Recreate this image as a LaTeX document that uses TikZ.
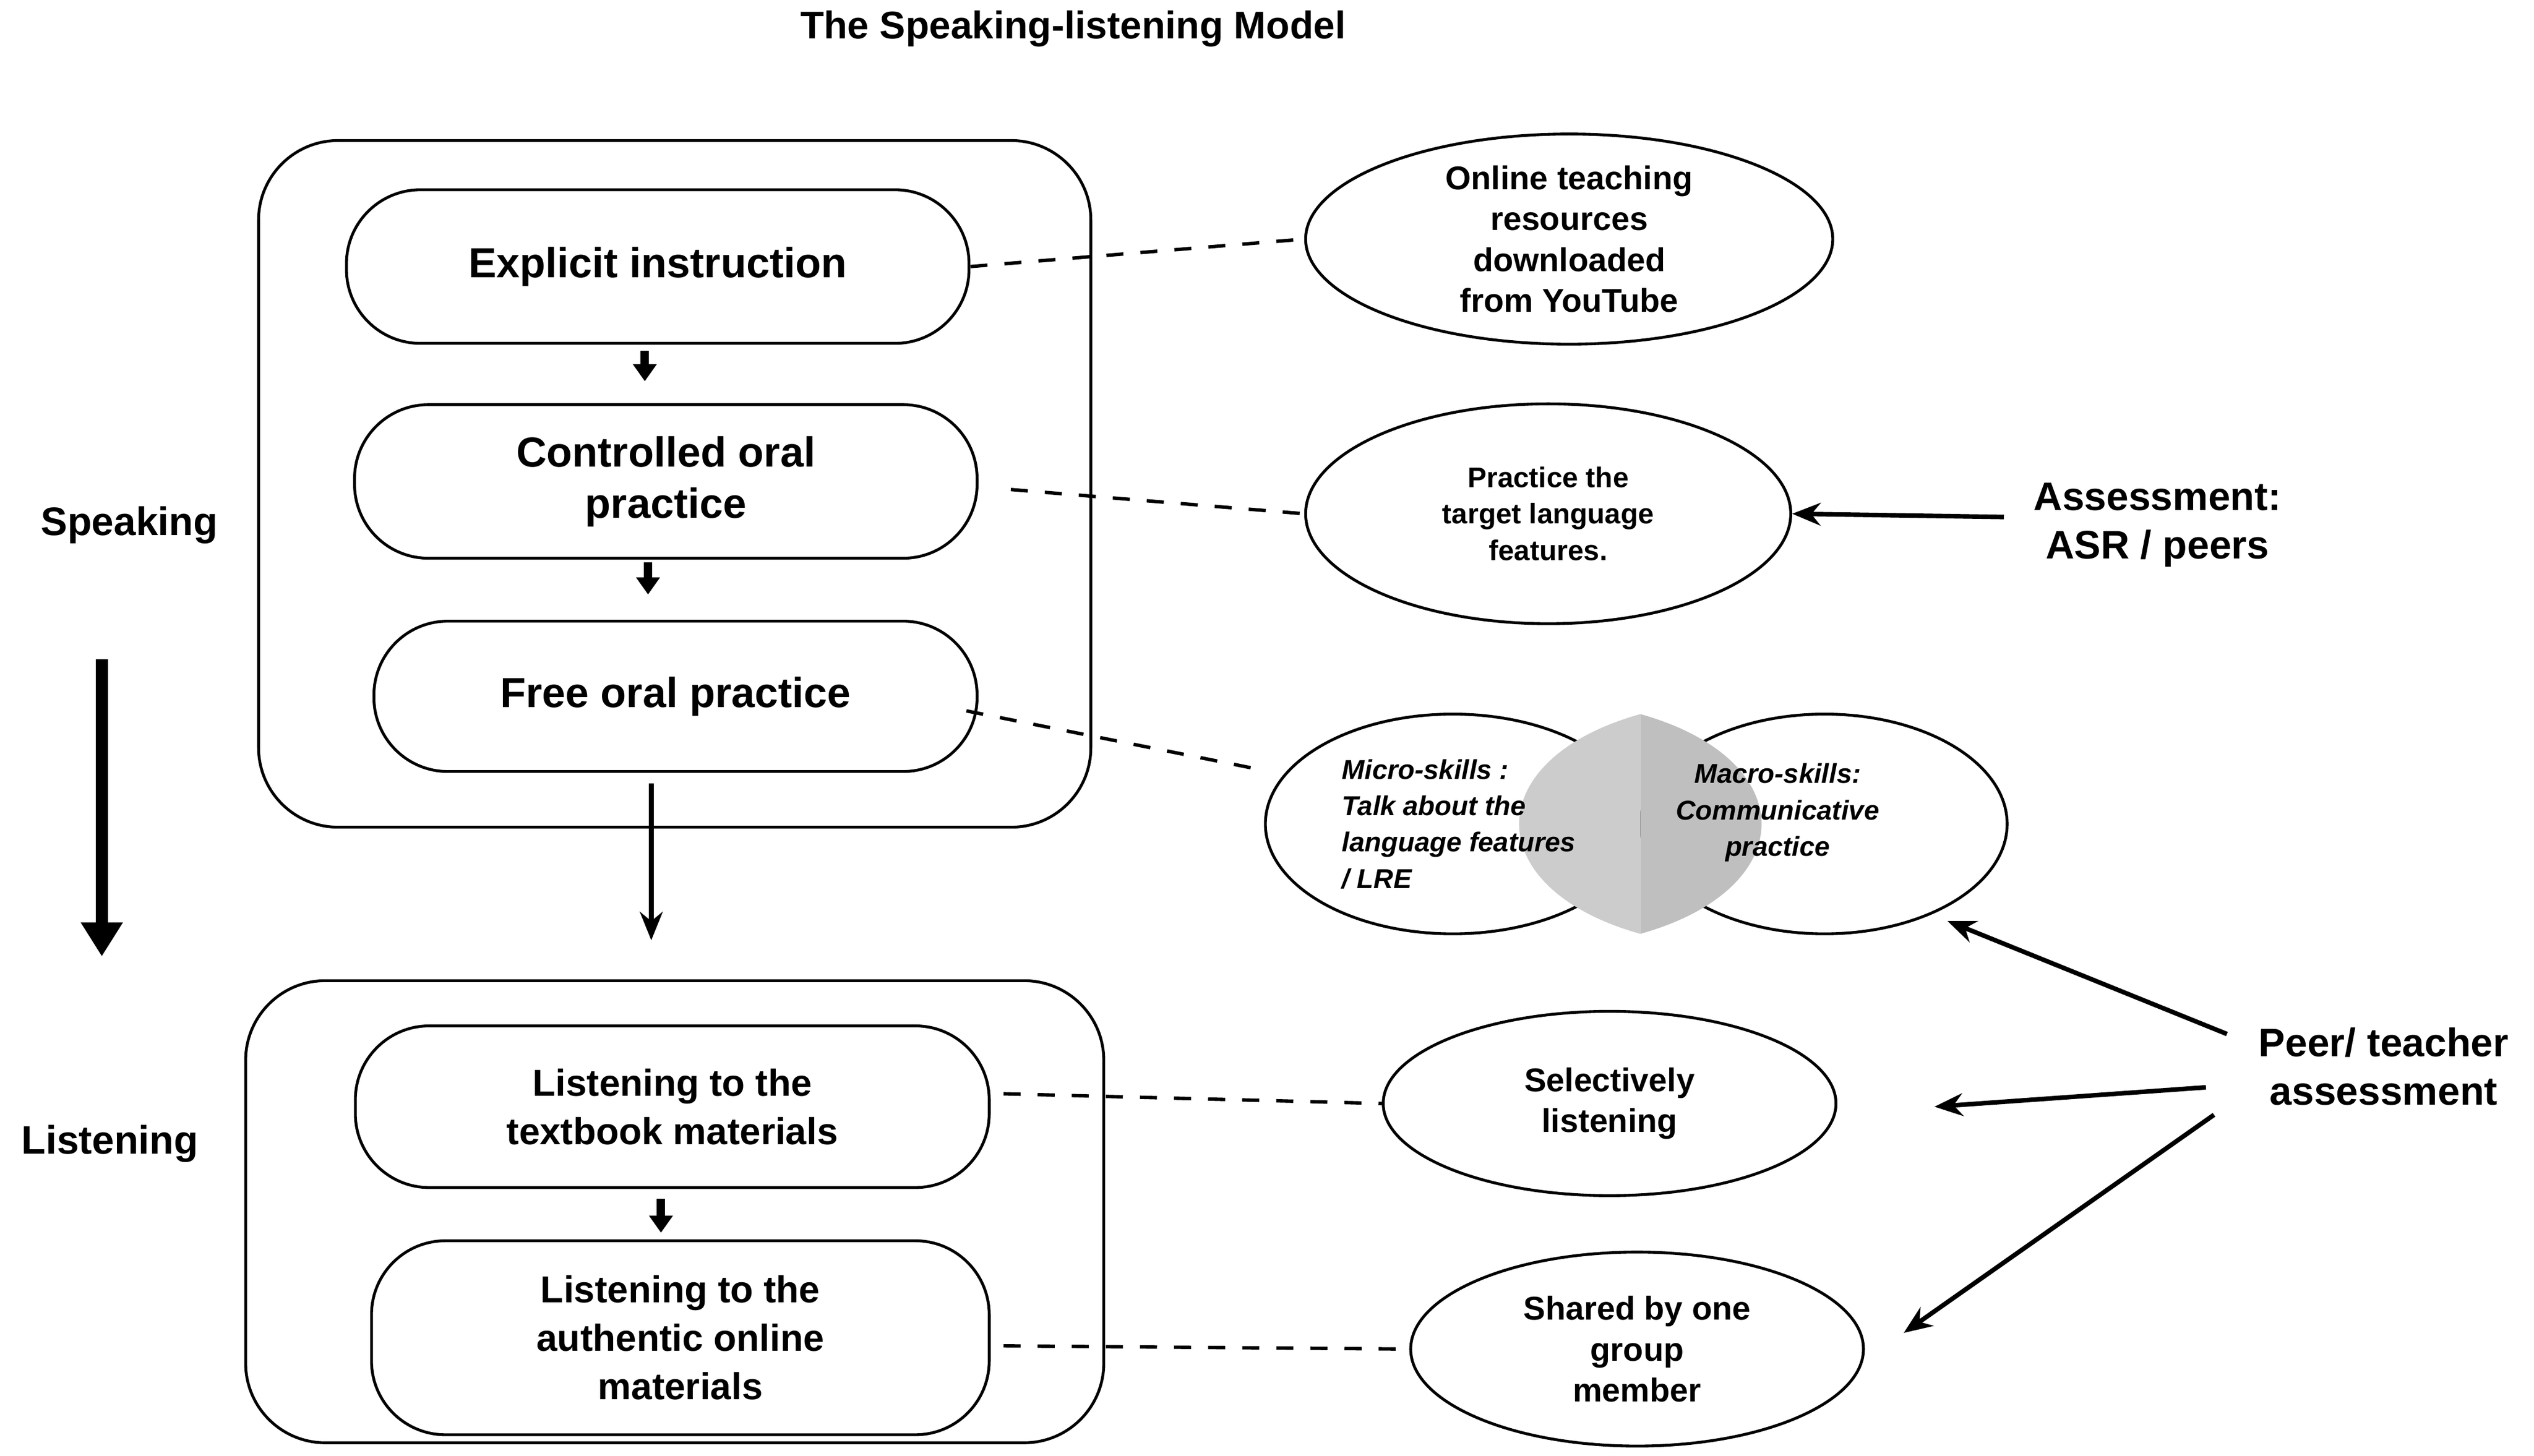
\documentclass[tikz,border=0pt]{standalone}
\usepackage{fontspec}
\setmainfont{Liberation Sans}
\usetikzlibrary{arrows.meta,shapes.geometric}
\begin{document}
\begin{tikzpicture}[x=0.01cm,y=-0.01cm,
 box/.style={draw,line width=0.5pt,rounded corners=14pt},
 pill/.style={draw,line width=0.5pt,rounded corners=13pt,minimum height=0.95cm,align=center,font=\bfseries\fontsize{7.4}{9}\selectfont},
 ell/.style={draw,ellipse,line width=0.5pt,align=center,font=\bfseries\fontsize{5.8}{7.2}\selectfont,inner sep=0},
 dsh/.style={dashed,line width=0.6pt},
 arr/.style={-{Stealth[length=5pt,width=4pt]},line width=0.8pt},
 sarr/.style={-{Triangle[length=3pt,width=4pt]},line width=1.5pt},
 lbl/.style={font=\bfseries\fontsize{7}{8.5}\selectfont,align=center}]
\useasboundingbox (0,0) rectangle (1568,901);
\node[font=\bfseries\fontsize{6.8}{8}\selectfont] (title) at (664,18) {The Speaking-listening Model};
\draw[box] (160,87) rectangle (675,512);
\draw[box] (152,607) rectangle (683,893);
\node[pill,minimum width=3.85cm] (ei) at (407,165) {Explicit instruction};
\node[pill,minimum width=3.85cm] (co) at (412,298) {Controlled oral\\practice};
\node[pill,minimum width=3.73cm,minimum height=0.93cm] (fo) at (418,431) {Free oral practice};
\node[pill,minimum width=3.92cm,minimum height=1.0cm,font=\bfseries\fontsize{6.6}{8.5}\selectfont] (lt) at (416,685) {Listening to the\\textbook materials};
\node[pill,minimum width=3.82cm,minimum height=1.2cm,font=\bfseries\fontsize{6.6}{8.5}\selectfont] (la) at (421,828) {Listening to the\\authentic online\\materials};
\draw[sarr] (399,217) -- (399,236);
\draw[sarr] (401,348) -- (401,368);
\draw[sarr] (409,742) -- (409,763);
\draw[arr] (403,485) -- (403,582);
\node[lbl] (sp) at (80,325) {Speaking};
\node[lbl] (li) at (68,708) {Listening};
\draw[-{Triangle[length=6pt,width=7pt]},line width=2.2pt] (63,408) -- (63,592);
\node[ell,minimum width=3.26cm,minimum height=1.3cm] (on) at (971,148) {Online teaching\\resources\\downloaded\\from YouTube};
\node[ell,minimum width=3.0cm,minimum height=1.36cm,font=\bfseries\fontsize{5}{6.4}\selectfont] (pt) at (958,318) {Practice the\\target language\\features.};
\node[ell,minimum width=2.8cm,minimum height=1.14cm] (sl) at (996,683) {Selectively\\listening};
\node[ell,minimum width=2.8cm,minimum height=1.2cm] (sh) at (1013,835) {Shared by one\\group\\member};
% Venn
\draw[line width=0.5pt] (899,510) ellipse (116 and 68);
\draw[line width=0.5pt] (1129,510) ellipse (113 and 68);
\fill[gray!40] (1015,442) .. controls (915,470) and (915,550) .. (1015,578) -- cycle;
\fill[gray!50] (1015,442) .. controls (1115,470) and (1115,550) .. (1015,578) -- cycle;
\coordinate (vl) at (783,477);
\node[font=\bfseries\itshape\fontsize{4.8}{6.4}\selectfont,align=left,anchor=west] (mi) at (818,510) {Micro-skills :\\Talk about the\\language features\\/ LRE};
\node[font=\bfseries\itshape\fontsize{4.8}{6.4}\selectfont,align=center] (ma) at (1100,503) {Macro-skills:\\Communicative\\practice};
\coordinate (vr) at (1205,570);
\draw[dsh] (ei.east) -- (on.west);
\draw[dsh] (co.east) ++(20,5) -- (pt.west);
\draw[dsh] (598,440) -- (vl);
\draw[dsh] (lt.east) ++(8,-8) -- (sl.west);
\draw[dsh] (la.east) ++(8,5) -- (sh.west);
\node[lbl] (as) at (1335,325) {Assessment:\\ASR / peers};
\draw[arr] (1240,320) -- (pt.east);
\node[lbl] (pa) at (1475,660) {Peer/ teacher\\assessment};
\draw[arr] (1378,640) -- (vr);
\draw[arr] (1365,673) -- (1197,685);
\draw[arr] (1370,690) -- (1178,825);
\end{tikzpicture}
\end{document}
